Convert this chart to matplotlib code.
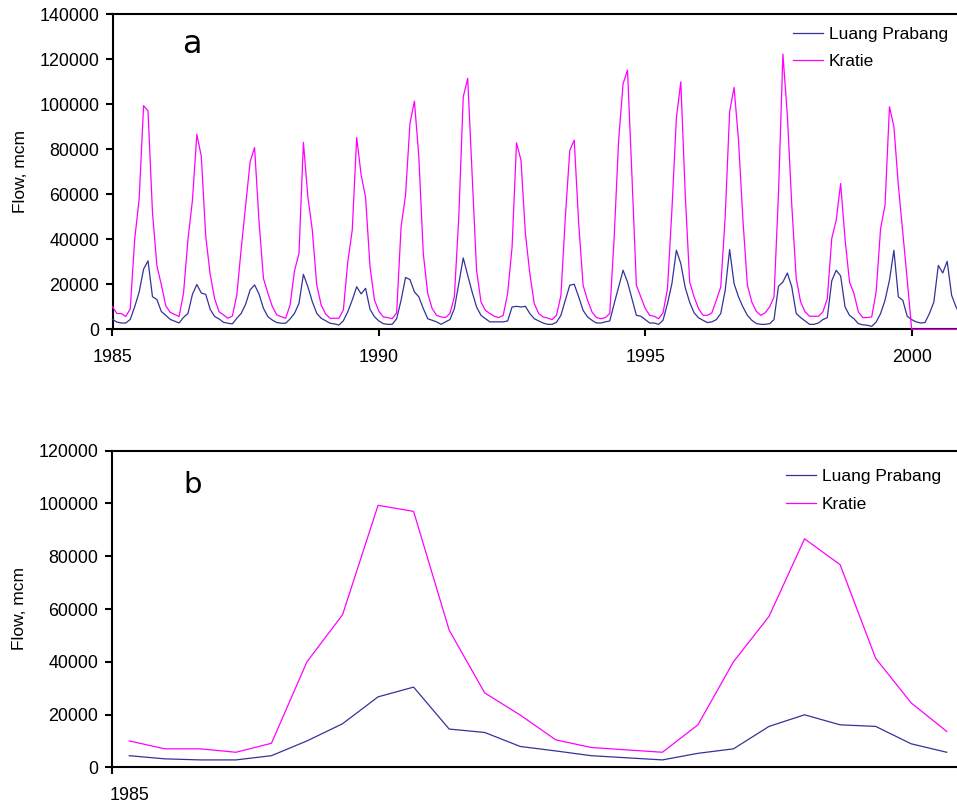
import numpy as np
import matplotlib
matplotlib.use("Agg")
import matplotlib.pyplot as plt

# ---- data: monthly flow (mcm), Jan 1985 .. Dec 2000 ----
start_year = 1985
luang_prabang = [
    4400, 3200, 2800, 2800, 4400, 10000, 16500, 26700, 30400, 14500, 13200, 7900,
    6200, 4400, 3600, 2800, 5300, 7000, 15500, 19900, 16100, 15500, 8900, 5700,
    4600, 3100, 2700, 2400, 4900, 7100, 11200, 17500, 19700, 15700, 9300, 5600,
    4100, 3000, 2700, 2700, 4600, 7100, 11500, 24400, 18900, 12300, 7100, 4900,
    3800, 2700, 2400, 1900, 3800, 7800, 13000, 18900, 15700, 18200, 8900, 5600,
    3700, 2500, 2200, 2200, 4700, 12900, 23000, 22100, 16600, 14400, 9200, 4700,
    4000, 3300, 2200, 3300, 4300, 9200, 20300, 31700, 24000, 16600, 9900, 6200,
    4700, 3300, 3300, 3300, 3300, 3700, 9900, 10200, 9900, 10200, 7000, 4700,
    3700, 2800, 2200, 2200, 3100, 6200, 13000, 19600, 20000, 14400, 8400, 5500,
    4000, 2800, 2800, 3300, 3700, 11400, 18800, 26200, 21000, 13600, 6200, 5800,
    4300, 2800, 2800, 2200, 4000, 11400, 20300, 35100, 29200, 18500, 12000, 7300,
    5100, 4000, 3000, 3300, 4300, 7000, 17300, 35400, 20300, 14400, 9900, 6200,
    4000, 2600, 2200, 2200, 2500, 4300, 19100, 21000, 25000, 18800, 7000, 5200,
    3700, 2200, 2200, 2800, 4300, 5200, 21500, 26200, 23700, 9900, 6200, 4700,
    2500, 2000, 1800, 1300, 3200, 7000, 12900, 21800, 35100, 14400, 12900, 5800,
    4300, 3300, 2800, 3000, 7000, 12100, 28400, 25000, 30200, 15100, 9900, 6000,
]
kratie = [
    10000, 7000, 7000, 5700, 9100, 40000, 57800, 99300, 97000, 52000, 28200, 19800,
    10400, 7500, 6600, 5700, 16100, 40000, 57200, 86600, 76800, 41300, 24400, 13600,
    7800, 6400, 4900, 5900, 15200, 36000, 55000, 74400, 80700, 48000, 22600, 16000,
    10100, 6400, 5600, 4900, 10800, 26000, 33700, 83000, 58900, 44100, 19700, 10800,
    6800, 4900, 4900, 4900, 8600, 30000, 44100, 85200, 68500, 58600, 27800, 13000,
    8000, 5500, 5200, 4700, 7300, 45500, 59500, 91400, 101300, 76600, 33600, 15900,
    9200, 6200, 5500, 5200, 7000, 14400, 50000, 103200, 111400, 69000, 26200, 12100,
    8400, 7000, 5800, 5200, 6200, 15900, 36600, 82800, 75100, 42500, 24700, 11400,
    7000, 5500, 5000, 4300, 6200, 15000, 50000, 79500, 84000, 47000, 19500, 12900,
    7700, 5200, 4700, 5200, 7000, 41000, 84000, 109000, 115100, 68000, 19500, 14400,
    9200, 6200, 5800, 4700, 7300, 18000, 53000, 93600, 109900, 60000, 21000, 14400,
    9200, 6200, 6200, 7300, 12900, 18800, 50000, 96600, 107400, 84000, 48400, 19600,
    12100, 8000, 6200, 7300, 9900, 14400, 60000, 122200, 95000, 55000, 22500, 12100,
    7700, 5800, 5800, 5800, 7700, 13600, 40300, 48400, 64700, 40000, 21000, 15900,
    7700, 5200, 5200, 5500, 16600, 44700, 55100, 98800, 90000, 64000, 43000, 22000,
    0, 0, 0, 0, 0, 0, 0, 0, 0, 0, 0, 0,
]
zoom_months = 24
series_names = ["Luang Prabang", "Kratie"]
top_yticks = [0, 20000, 40000, 60000, 80000, 100000, 120000, 140000]
bottom_yticks = [0, 20000, 40000, 60000, 80000, 100000, 120000]
top_xticks = [1985, 1990, 1995, 2000]
panel_labels = ["a", "b"]
ylabel = "Flow, mcm"

# ---- styling ----
W, H = 957, 807
C_LP = "#333399"
C_KR = "#FF00FF"
FONT = "Liberation Sans"
FS = 12.5
FS_TICK = 12.9
plt.rcParams["font.family"] = [FONT, "DejaVu Sans"]

fig = plt.figure(figsize=(W / 100, H / 100), dpi=100)

def frac_box(left, top, right, bottom):
    return [left / W, 1 - bottom / H, (right - left) / W, (bottom - top) / H]

def style_axes(ax):
    for s in ["left", "bottom", "top", "right"]:
        ax.spines[s].set_linewidth(1.5)
        ax.spines[s].set_color("black")
    ax.tick_params(axis="both", direction="out", length=5, width=1.5,
                   labelsize=FS_TICK, colors="black", pad=4)
    ax.tick_params(axis="y", pad=4.5)

# ---------------- top panel ----------------
n = len(kratie)
x_years = start_year + np.arange(n) / 12.0
ax1 = fig.add_axes(frac_box(112.5, 14, 112.5 + 848, 329.3))
l1, = ax1.plot(x_years, luang_prabang, color=C_LP, lw=0.9, zorder=3, clip_on=False)
l2, = ax1.plot(x_years, kratie, color=C_KR, lw=0.9, zorder=3, clip_on=False)
ax1.set_xlim(start_year, start_year + (n - 1) / 12.0)
ax1.set_ylim(0, 140000)
ax1.set_yticks(top_yticks)
ax1.set_yticklabels([str(v) for v in top_yticks])
ax1.set_xticks(top_xticks)
ax1.set_xticklabels([str(v) for v in top_xticks])
style_axes(ax1)
ax1.tick_params(axis="x", pad=9)
ax1.set_ylabel(ylabel, fontsize=FS, labelpad=8)
ax1.text(182 / W, 1 - 53 / H, panel_labels[0], transform=fig.transFigure,
         fontsize=23, family="DejaVu Sans", va="baseline", ha="left")
ax1.legend([l1, l2], series_names, loc="upper left",
           bbox_to_anchor=(793 / W, 1 - 26.5 / H), bbox_transform=fig.transFigure,
           frameon=False, fontsize=FS, handlelength=1.75, handletextpad=0.3,
           labelspacing=0.72, borderpad=0, borderaxespad=0)

# ---------------- bottom panel ----------------
k = np.arange(zoom_months)
ax2 = fig.add_axes(frac_box(111.5, 450.7, 111.5 + 853, 767.3))
m1, = ax2.plot(k, luang_prabang[:zoom_months], color=C_LP, lw=0.9, zorder=3)
m2, = ax2.plot(k, kratie[:zoom_months], color=C_KR, lw=0.9, zorder=3)
ax2.set_xlim(-0.5, zoom_months - 0.5)
ax2.set_ylim(0, 120000)
ax2.set_yticks(bottom_yticks)
ax2.set_yticklabels([str(v) for v in bottom_yticks])
ax2.set_xticks([-0.5])
ax2.set_xticklabels([""])
ax2.set_xticks([0], minor=True)
ax2.set_xticklabels([str(start_year)], minor=True)
style_axes(ax2)
ax2.tick_params(axis="x", which="minor", length=0, pad=14, labelsize=FS_TICK)
ax2.set_ylabel(ylabel, fontsize=FS, labelpad=8)
ax2.text(183 / W, 1 - 493 / H, panel_labels[1], transform=fig.transFigure,
         fontsize=21, family="DejaVu Sans", va="baseline", ha="left")
ax2.legend([m1, m2], series_names, loc="upper left",
           bbox_to_anchor=(786 / W, 1 - 469 / H), bbox_transform=fig.transFigure,
           frameon=False, fontsize=FS, handlelength=1.75, handletextpad=0.3,
           labelspacing=0.72, borderpad=0, borderaxespad=0)

fig.savefig("out.png", dpi=100)
